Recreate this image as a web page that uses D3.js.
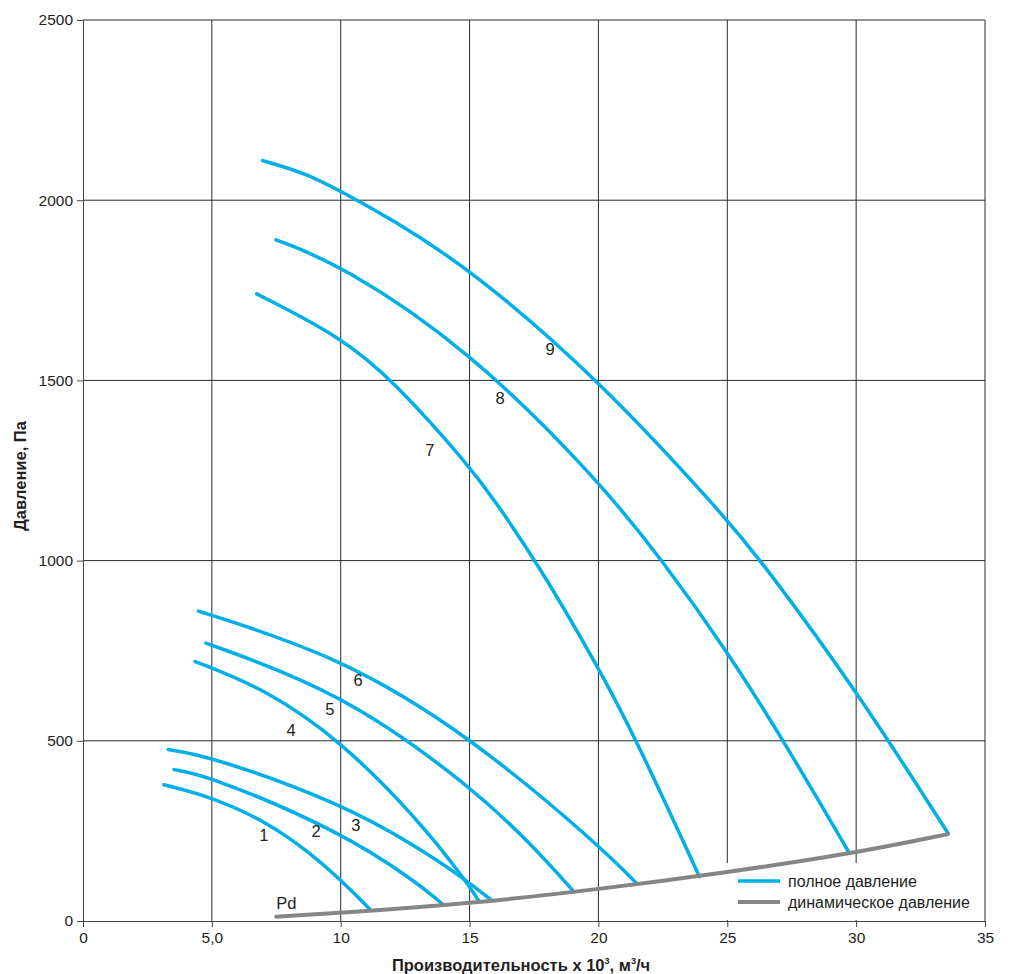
<!DOCTYPE html>
<html>
<head>
<meta charset="utf-8">
<script src="https://cdn.jsdelivr.net/npm/d3@7"></script>
<style>
  body { margin: 0; background: #fff; }
  text { font-family: "Liberation Sans", Arial, Helvetica, sans-serif; fill: #231f20; }
</style>
</head>
<body>
<div class="canvas"></div>
<script>
// curve data (flow x10^3 m3/h, pressure Pa)
const curveNames = ['1', '2', '3', '4', '5', '6', '7', '8', '9'];
const curveFlow = [
    [3.14, 5, 7.14, 8.81, 10, 11.14],
    [3.53, 5, 10, 12.95, 13.98],
    [3.31, 5, 10, 12.95, 14.75, 15.86],
    [4.35, 7.13, 10, 12.95, 14.75, 15.34],
    [4.77, 10, 15, 17.47, 19.05],
    [4.48, 10, 15, 20, 21.5],
    [6.74, 10, 12.04, 15, 15.92, 17.6, 20, 21.49, 23.92],
    [7.49, 10, 15, 20, 22.52, 25, 27.17, 29.74],
    [6.97, 8.68, 10, 11.91, 15, 20, 25, 26.4, 30, 33.56]
];
const curvePressure = [
    [378, 344, 275, 189, 114, 32],
    [420, 400, 248, 108, 45],
    [476, 456, 327, 207, 120, 57],
    [720, 642, 500, 286, 122, 58],
    [771, 636, 377, 208, 81],
    [860, 733, 514, 212, 103],
    [1740, 1621, 1500, 1262, 1172, 997, 704, 500, 123],
    [1890, 1822, 1584, 1224, 997, 748, 502, 188],
    [2110, 2074, 2025, 1950, 1811, 1505, 1115, 991, 641, 244]
];
// where each number label sits
const labelFlow = [7.02, 9.04, 10.59, 8.07, 9.58, 10.67, 13.46, 16.18, 18.12];
const labelPressure = [238, 250, 266, 530, 588, 669, 1307, 1451, 1587];

// dynamic pressure curve
const pdFlow = [7.5, 10, 15, 20, 25, 30, 33.56];
const pdPressure = [12, 22, 48, 88, 135, 189, 241];

const xTicks = [0, 5, 10, 15, 20, 25, 30, 35];
const xTickLabels = ['0', '5,0', '10', '15', '20', '25', '30', '35'];
const yTicks = [0, 500, 1000, 1500, 2000, 2500];

const legendNames = ['полное давление', 'динамическое давление'];

const blue = '#00aee8';
const grey = '#858587';

const svg = d3.select('.canvas')
    .append('svg')
    .attr('width', 1010)
    .attr('height', 974);

const margin = { top: 20, right: 25, bottom: 53, left: 83 };
const graphWidth = 1010 - margin.left - margin.right;
const graphHeight = 974 - margin.top - margin.bottom;

const graph = svg.append('g')
    .attr('transform', `translate(${margin.left}, ${margin.top})`);

const xScale = d3.scaleLinear().domain([0, 35]).range([0, graphWidth]);
const yScale = d3.scaleLinear().domain([0, 2500]).range([graphHeight, 0]);

// grid
graph.append('g')
    .selectAll('line')
    .data(xTicks.slice(1))
    .enter()
    .append('line')
    .attr('x1', d => xScale(d)).attr('x2', d => xScale(d))
    .attr('y1', 0).attr('y2', graphHeight)
    .attr('stroke', '#2b2b2b').attr('stroke-width', 1);

graph.append('g')
    .selectAll('line')
    .data(yTicks.slice(1))
    .enter()
    .append('line')
    .attr('x1', 0).attr('x2', graphWidth)
    .attr('y1', d => yScale(d)).attr('y2', d => yScale(d))
    .attr('stroke', '#2b2b2b').attr('stroke-width', 1);

// axes
const xAxis = d3.axisBottom(xScale)
    .tickValues(xTicks)
    .tickFormat((d, i) => xTickLabels[i])
    .tickSize(6)
    .tickPadding(5);
const yAxis = d3.axisLeft(yScale)
    .tickValues(yTicks)
    .tickFormat(d3.format('d'))
    .tickSize(6)
    .tickPadding(4);

const xg = graph.append('g')
    .attr('transform', `translate(0, ${graphHeight})`)
    .call(xAxis);
const yg = graph.append('g').call(yAxis);

[xg, yg].forEach(g => {
    g.select('.domain').attr('stroke', '#444');
    g.selectAll('.tick line').attr('stroke', '#444');
    g.selectAll('.tick text')
        .attr('font-size', 15.5)
        .attr('font-family', '"Liberation Sans", Arial, sans-serif')
        .attr('fill', '#231f20');
});

// legend box (white, hides grid)
graph.append('rect')
    .attr('x', 642).attr('y', 843)
    .attr('width', 258).attr('height', 57)
    .attr('fill', '#fff');

// curves
const line = d3.line()
    .x(d => xScale(d[0]))
    .y(d => yScale(d[1]))
    .curve(d3.curveBasis);

const curves = curveNames.map((name, i) =>
    curveFlow[i].map((q, j) => [q, curvePressure[i][j]]));

graph.append('g')
    .selectAll('path')
    .data(curves)
    .enter()
    .append('path')
    .attr('d', line)
    .attr('fill', 'none')
    .attr('stroke', blue)
    .attr('stroke-width', 3.5)
    .attr('stroke-linecap', 'round');

graph.append('path')
    .datum(pdFlow.map((q, i) => [q, pdPressure[i]]))
    .attr('d', line)
    .attr('fill', 'none')
    .attr('stroke', grey)
    .attr('stroke-width', 4)
    .attr('stroke-linecap', 'round');

// number labels
graph.append('g')
    .selectAll('text')
    .data(curveNames)
    .enter()
    .append('text')
    .attr('x', (d, i) => xScale(labelFlow[i]))
    .attr('y', (d, i) => yScale(labelPressure[i]))
    .attr('dy', '0.35em')
    .attr('text-anchor', 'middle')
    .attr('font-size', 16.5)
    .text(d => d);

graph.append('text')
    .attr('x', xScale(7.5))
    .attr('y', yScale(50))
    .attr('dy', '0.35em')
    .attr('font-size', 16.5)
    .text('Pd');

// legend
const legend = graph.append('g')
    .selectAll('g')
    .data(legendNames)
    .enter()
    .append('g')
    .attr('transform', (d, i) => `translate(655, ${861 + i * 21})`);

legend.append('line')
    .attr('x1', 0).attr('x2', 42)
    .attr('stroke', (d, i) => i === 0 ? blue : grey)
    .attr('stroke-width', (d, i) => i === 0 ? 3.5 : 4);

legend.append('text')
    .attr('x', 50)
    .attr('dy', '0.35em')
    .attr('font-size', 16)
    .text(d => d);

// axis titles
svg.append('text')
    .attr('x', 521)
    .attr('y', 971)
    .attr('text-anchor', 'middle')
    .attr('font-size', 16.5)
    .attr('font-weight', 'bold')
    .html('Производительность x 10<tspan dy="-7" font-size="9">3</tspan><tspan dy="7">, м</tspan><tspan dy="-7" font-size="9">3</tspan><tspan dy="7">/ч</tspan>');

svg.append('text')
    .attr('transform', 'translate(26, 476) rotate(-90)')
    .attr('text-anchor', 'middle')
    .attr('font-size', 16.5)
    .attr('font-weight', 'bold')
    .text('Давление, Па');
</script>
</body>
</html>
